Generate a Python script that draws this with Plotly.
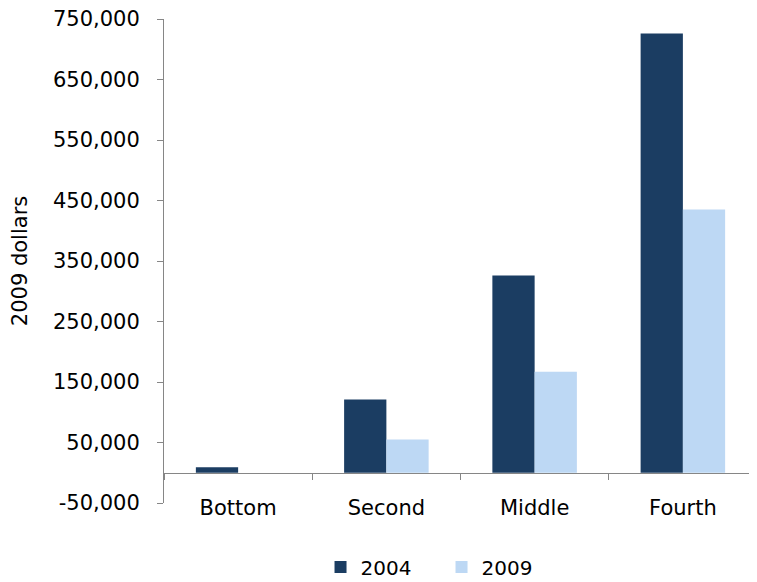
import plotly.graph_objects as go

categories = ["Bottom", "Second", "Middle", "Fourth"]
values_2004 = [9000, 121000, 326000, 726000]
values_2009 = [0, 55000, 167000, 435000]
series_names = ["2004", "2009"]
colors = ["#1B3D62", "#BDD8F4"]

y_min, y_max = -50000, 750000
tick_values = [-50000, 50000, 150000, 250000, 350000, 450000, 550000, 650000, 750000]
tick_labels = ["-50,000", "50,000", "150,000", "250,000", "350,000",
               "450,000", "550,000", "650,000", "750,000"]

fig = go.Figure()
fig.add_trace(go.Bar(x=categories, y=values_2004, name=series_names[0],
                     marker=dict(color=colors[0], line=dict(width=0))))
fig.add_trace(go.Bar(x=categories, y=values_2009, name=series_names[1],
                     marker=dict(color=colors[1], line=dict(width=0))))

font = dict(family="DejaVu Sans, Verdana, sans-serif", size=21, color="#000000")
legend_font = dict(family="DejaVu Sans, Verdana, sans-serif", size=20, color="#000000")

# page body has an 8px default margin, so the figure is offset by 8px
fig.update_layout(
    width=749, height=574,
    margin=dict(l=156, r=0, t=11, b=79, autoexpand=False),
    paper_bgcolor="white", plot_bgcolor="white",
    font=font,
    barmode="group", bargap=0.43, bargroupgap=0,
    showlegend=True,
    legend=dict(orientation="h", x=0.468, xanchor="center", y=-0.1322, yanchor="middle",
                font=legend_font, itemwidth=30, traceorder="normal",
                entrywidth=76, entrywidthmode="pixels"),
    xaxis=dict(
        anchor="free", position=(0 - y_min) / (y_max - y_min),
        showline=True, linecolor="#868686", linewidth=1,
        ticks="outside", tickson="boundaries", ticklen=6, tickcolor="#868686",
        ticklabelstandoff=16, showgrid=False, zeroline=False,
    ),
    yaxis=dict(
        range=[y_min, y_max], tickmode="array", tickvals=tick_values, ticktext=tick_labels,
        showline=True, linecolor="#868686", linewidth=1,
        ticks="outside", ticklen=6, tickcolor="#868686",
        ticklabelstandoff=13, ticklabeloverflow="allow",
        showgrid=False, zeroline=False,
        title=dict(text="2009 dollars", standoff=28, font=font),
        automargin=False,
    ),
)

fig.write_html("out.html")
